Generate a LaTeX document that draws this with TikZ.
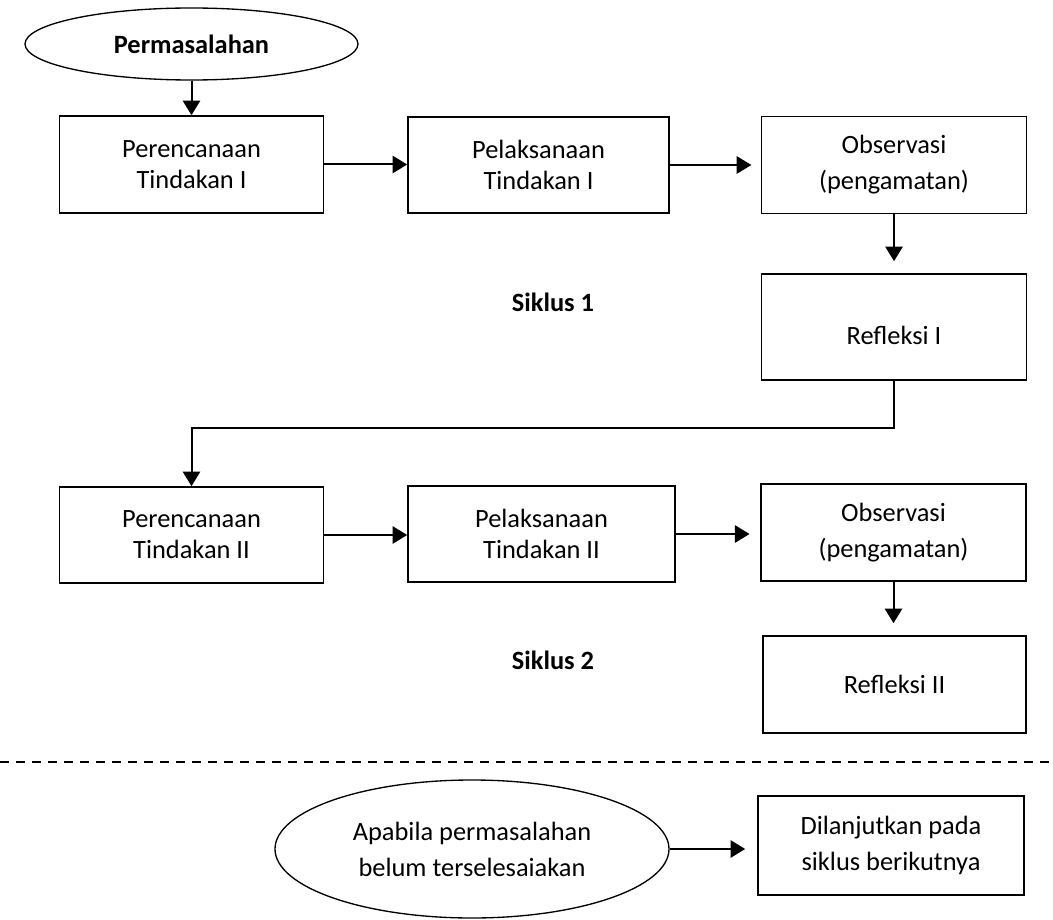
\documentclass[tikz,border=0pt]{standalone}
\usepackage{fontspec}
\setmainfont{Carlito}
\usetikzlibrary{arrows.meta,shapes.geometric}
\tikzset{
  txt/.style={font=\fontsize{19.8}{23.2}\selectfont},
  wide/.style={font=\fontsize{19.8}{27}\selectfont},
  box/.style={draw, line width=1.2pt, inner sep=0pt, align=center, txt},
  oval/.style={draw, ellipse, line width=1.0pt, inner sep=0pt, align=center, txt},
  conn/.style={line width=1.5pt, -{Triangle[length=11pt,width=13pt]}},
  lbl/.style={font=\fontsize{19.8}{23.2}\selectfont\bfseries},
}
\begin{document}
\begin{tikzpicture}[x=0.75pt,y=-0.75pt]
\path[use as bounding box, fill=white] (0,0) rectangle (1053,920);
% Cycle 1
\node[oval, minimum width=249.75pt, minimum height=54pt, font=\fontsize{19.8}{23.2}\selectfont\bfseries] (p) at (191.5,44) {Permasalahan};
\node[box, minimum width=198pt, minimum height=72.75pt] (a1) at (191.5,164.5) {Perencanaan\\Tindakan I};
\node[box, minimum width=195.75pt, minimum height=72pt] (a2) at (538.5,165) {Pelaksanaan\\Tindakan I};
\node[box, minimum width=198.75pt, minimum height=72.75pt, wide] (a3) at (894,165) {Observasi\\(pengamatan)};
\node[box, minimum width=198.75pt, minimum height=79.5pt] (a4) at (894,327) {};
\node[txt] (a4t) at (894,335) {Refleksi I};
\node[lbl] (s1) at (553,302) {Siklus 1};
% Cycle 2
\node[box, minimum width=198pt, minimum height=72pt] (b1) at (191.5,535) {Perencanaan\\Tindakan II};
\node[box, minimum width=200.25pt, minimum height=72pt] (b2) at (541.5,534) {Pelaksanaan\\Tindakan II};
\node[box, minimum width=198.75pt, minimum height=72.75pt, wide] (b3) at (893.5,532.5) {Observasi\\(pengamatan)};
\node[box, minimum width=197.25pt, minimum height=72.75pt] (b4) at (894.5,684.5) {Refleksi II};
\node[lbl] (s2) at (553,660) {Siklus 2};
% Bottom
\coordinate (dl) at (0,762);
\coordinate (dr) at (1053,762);
\draw[line width=1.2pt, dash pattern=on 6.5pt off 5.5pt] (dl) -- (dr);
\node[oval, minimum width=295.5pt, minimum height=103.5pt, wide] (e) at (472,849) {Apabila permasalahan\\belum terselesaiakan};
\node[box, minimum width=199.5pt, minimum height=74.25pt, wide] (d) at (891,845.5) {Dilanjutkan pada\\siklus berikutnya};
% Connectors
\draw[conn] (p.south) -- (a1.north);
\draw[conn] (a1.east) -- (a1.east -| a2.west);
\draw[conn] (a2.east) -- ([xshift=-7pt]a3.west |- a2.east);
\draw[conn] (a3.south) -- ([yshift=9pt]a3.south |- a4.north);
\coordinate (turn) at (894,428);
\draw[conn] (a4.south) -- (turn) -| (b1.north);
\draw[conn] (b1.east) -- (b1.east -| b2.west);
\draw[conn] (b2.east) -- ([xshift=-8pt]b2.east -| b3.west);
\draw[conn] (b3.south) -- ([yshift=9pt]b3.south |- b4.north);
\draw[conn] (e.east) -- ([xshift=-9pt]e.east -| d.west);
\end{tikzpicture}
\end{document}
